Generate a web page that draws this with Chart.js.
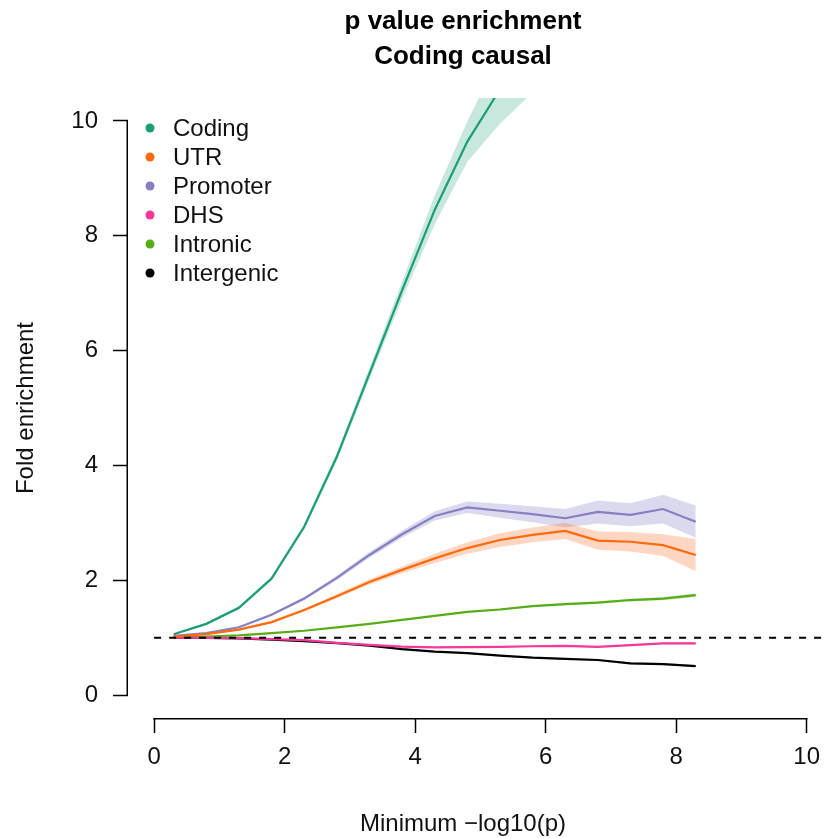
<!DOCTYPE html>
<html><head><meta charset="utf-8">
<script src="https://cdn.jsdelivr.net/npm/chart.js@4/dist/chart.umd.min.js"></script>
<style>html,body{margin:0;padding:0;background:#fff}#wrap{width:830px;height:838px;position:relative}</style>
</head><body><div id="wrap"><canvas id="c"></canvas></div>
<script>
const xValues = [0.3,0.8,1.3,1.8,2.3,2.8,3.3,3.8,4.3,4.8,5.3,5.8,6.3,6.8,7.3,7.8,8.3];
const seriesNames = ['Coding','UTR','Promoter','DHS','Intronic','Intergenic'];
const coding     = [1.06,1.24,1.52,2.03,2.93,4.15,5.60,7.05,8.45,9.64,10.55,11.3,null,null,null,null,null];
const codingCI   = [0.01,0.02,0.03,0.04,0.05,0.07,0.10,0.15,0.25,0.35,0.60,0.80,null,null,null,null,null];
const utr        = [1.02,1.06,1.14,1.27,1.48,1.72,1.97,2.18,2.38,2.56,2.70,2.79,2.86,2.69,2.67,2.61,2.44];
const utrCI      = [0.005,0.01,0.015,0.02,0.025,0.035,0.045,0.06,0.08,0.10,0.12,0.13,0.14,0.16,0.17,0.19,0.28];
const promoter   = [1.03,1.08,1.18,1.40,1.68,2.04,2.44,2.80,3.12,3.27,3.21,3.15,3.08,3.19,3.14,3.24,3.02];
const promoterCI = [0.005,0.01,0.015,0.02,0.03,0.04,0.05,0.06,0.08,0.10,0.12,0.14,0.16,0.20,0.20,0.25,0.28];
const dhs        = [1.00,0.995,0.99,0.975,0.955,0.91,0.875,0.845,0.83,0.835,0.84,0.85,0.855,0.84,0.87,0.90,0.90];
const dhsCI      = [0.003,0.004,0.005,0.006,0.007,0.008,0.009,0.01,0.01,0.01,0.012,0.012,0.013,0.014,0.015,0.016,0.018];
const intronic   = [1.01,1.02,1.04,1.08,1.12,1.18,1.24,1.31,1.38,1.45,1.49,1.55,1.585,1.61,1.655,1.68,1.74];
const intronicCI = [0.003,0.004,0.005,0.006,0.007,0.008,0.009,0.01,0.012,0.014,0.016,0.018,0.02,0.022,0.024,0.027,0.035];
const intergenic = [1.00,0.995,0.985,0.965,0.94,0.905,0.86,0.80,0.755,0.73,0.685,0.65,0.63,0.61,0.55,0.54,0.505];
const intergenicCI=[0.003,0.004,0.005,0.006,0.007,0.008,0.009,0.01,0.01,0.011,0.012,0.013,0.014,0.015,0.016,0.017,0.018];
const xTicks = [0,2,4,6,8,10];
const yTicks = [0,2,4,6,8,10];
const titleLines = ['p value enrichment','Coding causal'];
const xLabel = 'Minimum \u2212log10(p)';
const yLabel = 'Fold enrichment';
const referenceLevel = 1;

const seriesValues = [coding, utr, promoter, dhs, intronic, intergenic];
const seriesCI = [codingCI, utrCI, promoterCI, dhsCI, intronicCI, intergenicCI];
const lineColors = ['#1B9E77','#FF6A0D','#8480C2','#F5389A','#57AD17','#000000'];
const bandColors = ['rgba(27,158,119,0.24)','rgba(255,120,50,0.30)','rgba(132,128,194,0.30)','rgba(245,56,154,0.25)','rgba(87,173,23,0.25)','rgba(0,0,0,0.2)'];
const FONT = "'Liberation Sans', Arial, Helvetica, sans-serif";

const datasets = [];
seriesNames.forEach((name, i) => {
  const v = seriesValues[i], ci = seriesCI[i];
  datasets.push({label: name + ' upper', data: xValues.map((x,j)=>({x, y: v[j]==null?null:v[j]+ci[j]})),
    borderWidth:0, pointRadius:0, fill:'+1', backgroundColor: bandColors[i], order: 10, showLine:true});
  datasets.push({label: name + ' lower', data: xValues.map((x,j)=>({x, y: v[j]==null?null:v[j]-ci[j]})),
    borderWidth:0, pointRadius:0, fill:false, order: 10, showLine:true});
});
seriesNames.forEach((name, i) => {
  datasets.push({label: name, data: xValues.map((x,j)=>({x, y: seriesValues[i][j]})),
    borderColor: lineColors[i], borderWidth: 2.2, pointRadius:0, fill:false, order: 1, tension:0, showLine:true});
});
datasets.push({label:'ref', data:[{x:0,y:referenceLevel},{x:10.4,y:referenceLevel}], borderColor:'#000', borderWidth:2,
  borderDash:[7,8], pointRadius:0, fill:false, order: 0, showLine:true});

const rStyle = {
  id: 'rStyle',
  afterDraw(chart) {
    const {ctx, scales:{x, y}, chartArea} = chart;
    ctx.save();
    ctx.strokeStyle = '#000'; ctx.lineWidth = 1.5;
    ctx.beginPath();
    const yb = chartArea.bottom + 0.75;
    ctx.moveTo(x.getPixelForValue(xTicks[0]) - 0.75, yb);
    ctx.lineTo(x.getPixelForValue(xTicks[xTicks.length-1]) + 0.75, yb);
    const xl = chartArea.left - 0.75;
    ctx.moveTo(xl, y.getPixelForValue(yTicks[0]) + 0.75);
    ctx.lineTo(xl, y.getPixelForValue(yTicks[yTicks.length-1]) - 0.75);
    ctx.stroke();
    ctx.fillStyle = '#000';
    ctx.textAlign = 'center'; ctx.textBaseline = 'middle';
    ctx.font = 'bold 26px ' + FONT;
    ctx.fillText(titleLines[0], 463, 22);
    ctx.fillText(titleLines[1], 463, 57);
    ctx.font = '24px ' + FONT;
    ctx.fillStyle = '#111';
    ctx.fillText(xLabel, 463, 824);
    ctx.textAlign = 'left';
    seriesNames.forEach((name, i) => {
      const cy = 128 + 29 * i;
      ctx.beginPath(); ctx.fillStyle = lineColors[i];
      ctx.arc(150, cy, 4.5, 0, Math.PI*2); ctx.fill();
      ctx.fillStyle = '#111';
      ctx.fillText(name, 173, cy + 1);
    });
    ctx.restore();
  }
};

new Chart(document.getElementById('c'), {
  type: 'scatter',
  data: { datasets },
  options: {
    responsive: true, maintainAspectRatio: false, animation: false,
    layout: { padding: { top: 98, left: 0, right: 0, bottom: 0 } },
    plugins: { legend: { display: false }, tooltip: { enabled: false }, title: { display: false } },
    scales: {
      x: {
        type: 'linear', min: -0.4, max: 10.3,
        afterBuildTicks: s => { s.ticks = xTicks.map(v => ({value: v})); },
        afterFit: s => { s.height = 120; },
        border: { display: false },
        grid: { drawOnChartArea: false, drawTicks: true, tickLength: 15, tickColor: '#000', tickWidth: 1.5 },
        ticks: { color: '#111', font: { family: FONT, size: 24 }, padding: 10, maxRotation: 0, autoSkip: false }
      },
      y: {
        type: 'linear', min: -0.4, max: 10.4,
        afterBuildTicks: s => { s.ticks = yTicks.map(v => ({value: v})); },
        afterFit: s => { s.width = 128; },
        border: { display: false },
        grid: { drawOnChartArea: false, drawTicks: true, tickLength: 15, tickColor: '#000', tickWidth: 1.5 },
        ticks: { color: '#111', font: { family: FONT, size: 24 }, padding: 15, autoSkip: false },
        title: { display: true, text: yLabel, color: '#111', font: { family: FONT, size: 24 }, padding: { top: 12, bottom: 0 } }
      }
    }
  },
  plugins: [rStyle]
});
</script></body></html>
